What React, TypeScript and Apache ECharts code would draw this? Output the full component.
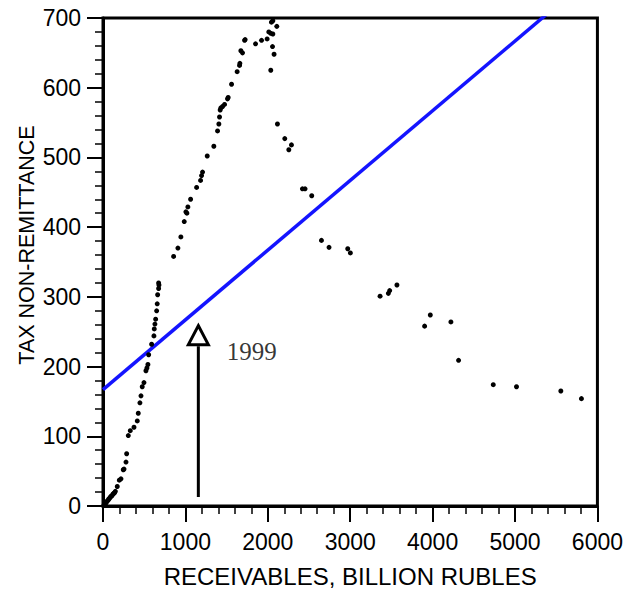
import React, { useEffect, useRef } from "react";
import * as echarts from "echarts";

// Scatter of tax non-remittance vs receivables (billion rubles)
const receivables: number[] = [
  10, 20, 30, 40, 50, 60, 70, 80, 90, 100, 110, 120, 130, 140, 150,
  173, 198, 218, 246, 255, 279, 287, 307, 331, 376, 416, 428, 448, 461, 476, 497,
  521, 533, 545, 554, 590, 618, 622, 630, 639, 651, 658, 663, 675, 679, 675,
  857, 909, 945, 986, 1006, 1018, 1030, 1063, 1136, 1184, 1196, 1208, 1265, 1345,
  1390, 1406, 1414, 1422, 1430, 1451, 1475, 1511, 1519, 1560, 1628, 1657, 1661,
  1673, 1693, 1718, 1725, 1851, 1924, 1992, 2036, 2057, 2076, 2012, 2036, 2061,
  2044, 2061, 2109,
  2117, 2206, 2255, 2287, 2420, 2452, 2533, 2651, 2743, 2970, 3002, 3362, 3463,
  3479, 3567, 3903, 3972, 4222, 4315, 4736, 5018, 5556, 5806,
];
const nonRemittance: number[] = [
  1, 3, 4, 5, 7, 8, 10, 11, 13, 14, 15, 17, 18, 19, 21,
  28, 37, 39, 52, 53, 63, 75, 101, 108, 113, 122, 133, 148, 158, 171, 177,
  194, 198, 203, 217, 232, 244, 254, 261, 268, 280, 290, 303, 312, 317, 320,
  358, 370, 386, 408, 422, 420, 429, 440, 457, 467, 474, 479, 502, 516,
  538, 548, 558, 568, 571, 573, 576, 584, 586, 605, 623, 632, 635,
  653, 650, 668, 669, 663, 668, 670, 625, 659, 648, 680, 678, 677,
  694, 696, 688,
  548, 527, 511, 518, 455, 455, 445, 381, 371, 369, 363, 301, 305,
  309, 317, 258, 274, 264, 209, 174, 171, 165, 154,
];

// Trend line endpoints (x, y)
const trendX: number[] = [0, 6000];
const trendY: number[] = [167, 767];

// Annotation: arrow for 1999
const arrowX = 1157;
const arrowShaftY: number[] = [13, 229];
const arrowHeadY = 245;
const annotationText = "1999";
const annotationPos: number[] = [1805, 221];

const xTicks = { min: 0, max: 6000, interval: 1000 };
const yTicks = { min: 0, max: 700, interval: 100 };

const sans = "'Liberation Sans', Arial, Helvetica, sans-serif";
const serif = "'Liberation Serif', 'Times New Roman', serif";

export default function App() {
  const ref = useRef<HTMLDivElement>(null);
  useEffect(() => {
    if (!ref.current) return;
    const chart = echarts.init(ref.current, null, { renderer: "svg" });
    const points = receivables.map((x, i) => [x, nonRemittance[i]]);
    const axisCommon = {
      type: "value" as const,
      axisLine: { show: true, onZero: false, lineStyle: { color: "#000", width: 3 } },
      axisTick: { show: true, length: 16, lineStyle: { color: "#000", width: 2 } },
      minorTick: { show: true, splitNumber: 5, length: 8, lineStyle: { color: "#000", width: 1.5 } },
      splitLine: { show: false },
      minorSplitLine: { show: false },
    };
    chart.setOption({
      animation: false,
      backgroundColor: "#fff",
      grid: {
        left: 103,
        top: 18,
        right: 28.5,
        bottom: 91,
        show: true,
        borderColor: "#000",
        borderWidth: 3,
        backgroundColor: "transparent",
      },
      xAxis: {
        ...axisCommon,
        min: xTicks.min,
        max: xTicks.max,
        interval: xTicks.interval,
        axisLabel: {
          color: "#000",
          fontSize: 23,
          fontFamily: sans,
          margin: 24,
          formatter: (v: number) => String(v),
        },
        name: "RECEIVABLES, BILLION RUBLES",
        nameLocation: "middle",
        nameGap: 58,
        nameTextStyle: { color: "#000", fontSize: 24, fontFamily: sans },
      },
      yAxis: {
        ...axisCommon,
        min: yTicks.min,
        max: yTicks.max,
        interval: yTicks.interval,
        axisLabel: {
          color: "#000",
          fontSize: 23,
          fontFamily: sans,
          margin: 22,
          formatter: (v: number) => String(v),
        },
      },
      graphic: [
        {
          type: "text",
          x: 27,
          y: 245,
          rotation: Math.PI / 2,
          style: {
            text: "TAX NON-REMITTANCE",
            fontSize: 21.5,
            fontFamily: sans,
            fill: "#000",
            align: "center",
            verticalAlign: "middle",
          },
        },
      ],
      series: [
        {
          type: "line",
          data: trendX.map((x, i) => [x, trendY[i]]),
          showSymbol: false,
          symbol: "none",
          clip: true,
          lineStyle: { color: "#1414ff", width: 3.5 },
          z: 2,
        },
        {
          type: "scatter",
          data: points,
          symbolSize: 5,
          itemStyle: { color: "#000", opacity: 1 },
          z: 3,
        },
        {
          type: "line",
          data: arrowShaftY.map((y) => [arrowX, y]),
          symbol: "none",
          lineStyle: { color: "#000", width: 3 },
          z: 4,
        },
        {
          type: "scatter",
          data: [[arrowX, arrowHeadY]],
          symbol: "triangle",
          symbolSize: [20, 19],
          itemStyle: { color: "#fff", borderColor: "#000", borderWidth: 3, opacity: 1 },
          z: 5,
        },
        {
          type: "scatter",
          data: [annotationPos],
          symbolSize: 0,
          label: {
            show: true,
            position: "inside",
            formatter: annotationText,
            fontFamily: serif,
            fontSize: 25,
            color: "#000",
          },
          z: 5,
        },
      ],
    });
    return () => chart.dispose();
  }, []);
  return (
    <div
      ref={ref}
      style={{ position: "absolute", left: 0, top: 0, width: 626, height: 597 }}
    />
  );
}
